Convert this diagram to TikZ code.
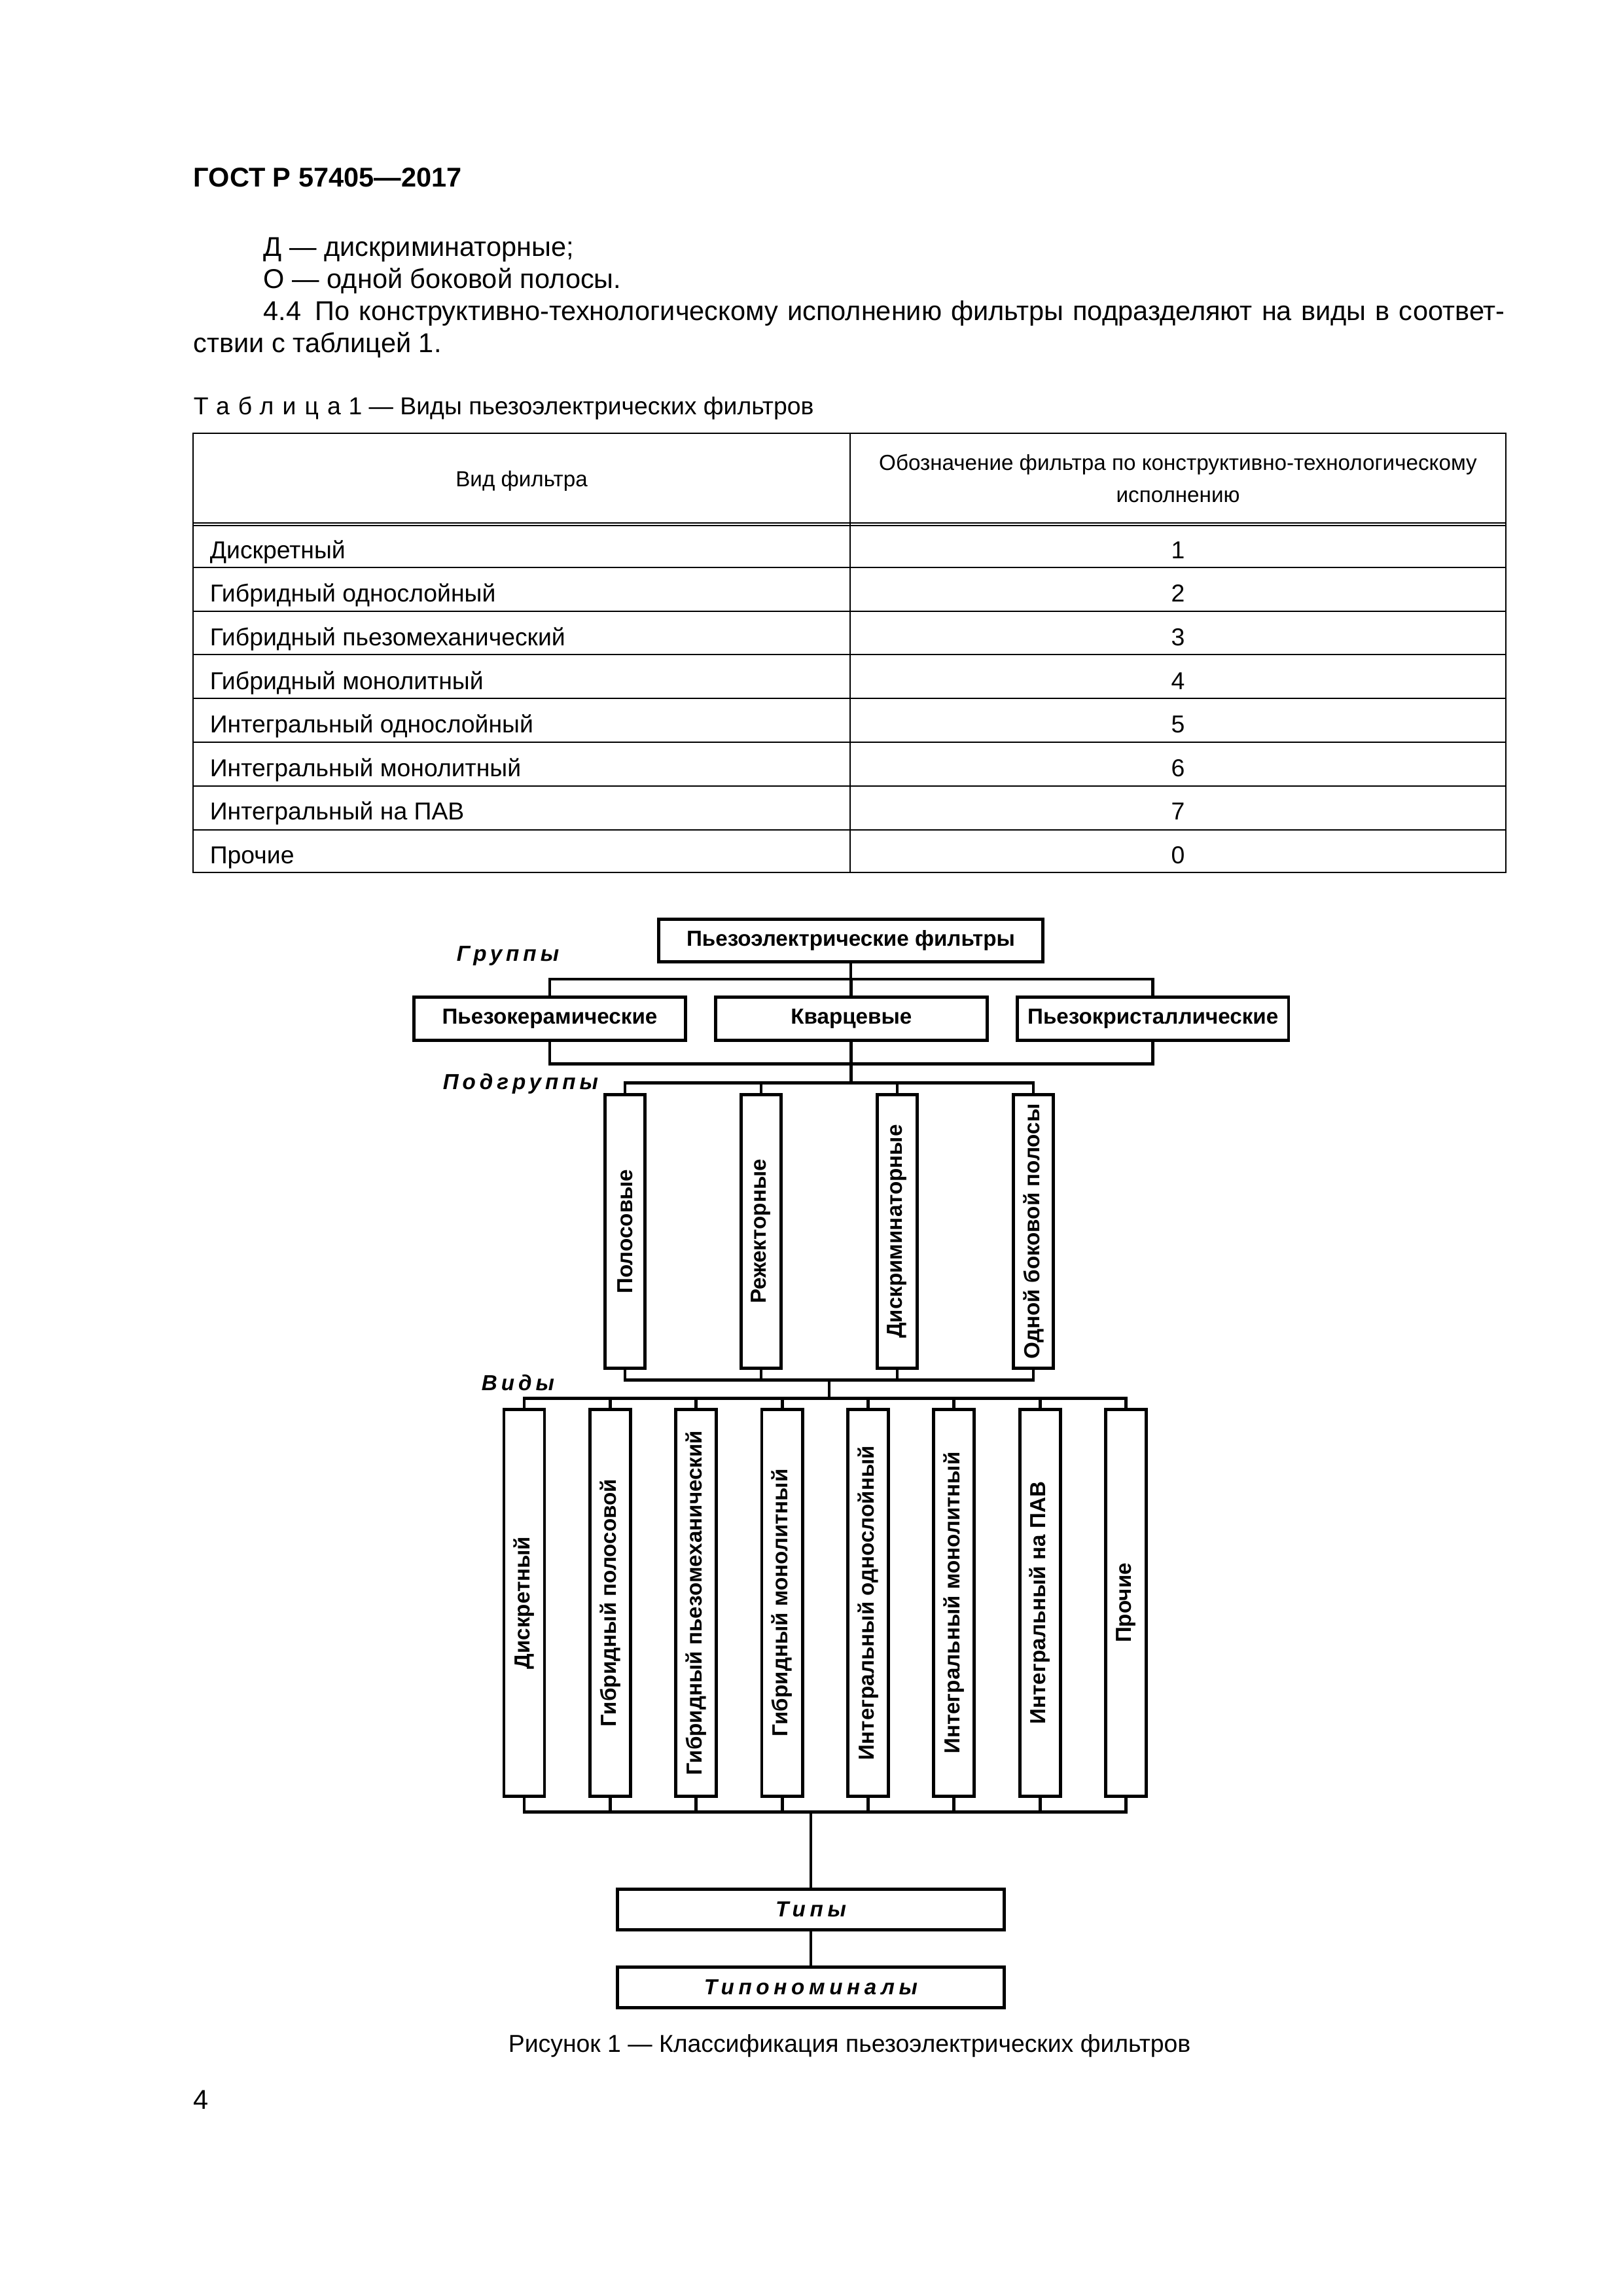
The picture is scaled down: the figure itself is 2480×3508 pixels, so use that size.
\documentclass[tikz,border=0pt]{standalone}
\usepackage{fontspec}
\setmainfont{Liberation Sans}
\usepackage{graphicx}
\usetikzlibrary{positioning, calc}
\tikzset{
    fbox/.style={rectangle, draw, line width=0.42mm, inner sep=0pt, align=center, font=\fontsize{8}{9.6}\selectfont\bfseries},
    topbox/.style={fbox, minimum width=49.7mm, minimum height=5.5mm},
    grpbox/.style={fbox, minimum width=35.1mm, minimum height=5.6mm},
    subbox/.style={fbox, minimum width=5.17mm, minimum height=35.4mm},
    kindbox/.style={fbox, minimum width=5.25mm, minimum height=50mm},
    endbox/.style={fbox, minimum width=50mm, minimum height=5.25mm, font=\fontsize{8}{9.6}\selectfont\bfseries\itshape\addfontfeature{LetterSpace=20}},
    link/.style={line width=0.42mm}
}

\begin{document}
\begin{tikzpicture}[x=0.0846774mm, y=-0.0846774mm,
    textline/.style={anchor=base west, inner sep=0pt, font=\fontsize{10}{12}\selectfont},
    cell/.style={inner sep=0pt, text height=6.5pt, text depth=1.5pt, font=\fontsize{9}{11}\selectfont},
    level/.style={anchor=west, inner sep=0pt, font=\fontsize{8}{9.6}\selectfont\bfseries\itshape\addfontfeature{LetterSpace=18}},
    rule/.style={line width=0.3pt}]

    \fill[white] (0,0) rectangle (2480,3508);
    \useasboundingbox (0,0) rectangle (2480,3508);

    % page text
    \node (gost) [textline, font=\fontsize{10}{12}\selectfont\bfseries] at (295,285) {ГОСТ Р 57405—2017};
    \node (defd) [textline] at (402,391) {Д — дискриминаторные;};
    \node (defo) [textline] at (402,440) {О — одной боковой полосы.};
    \node (par1) [textline] at (402,489) {\makebox[160.6mm][s]{4.4\hspace{1.8mm}По конструктивно-технологическому исполнению фильтры подразделяют на виды в соответ-}};
    \node (par2) [textline] at (295,538) {ствии с таблицей 1.};
    \node (tabcap) [textline, font=\fontsize{9}{11}\selectfont] at (295,633) {{\addfontfeature{LetterSpace=35}Таблица}\hspace{1mm}1 — Виды пьезоэлектрических фильтров};

    % table
    \draw[rule] (295,662) rectangle (2301,1333);
    \draw[rule] (295,799) -- (2301,799) (295,803) -- (2301,803);
    \draw[rule] (1299,662) -- (1299,1333);
    \foreach \y in {867,934,1000,1067,1134,1201,1268}
        \draw[rule] (295,\y) -- (2301,\y);
    \node (head1) [cell, font=\fontsize{8}{11.8}\selectfont] at (797,733) {Вид фильтра};
    \node (head2) [inner sep=0pt, align=center, font=\fontsize{8}{11.8}\selectfont] at (1800,731) {Обозначение фильтра по конструктивно-технологическому\\исполнению};
    \foreach \name/\code [count=\i] in {Дискретный/1, Гибридный однослойный/2, Гибридный пьезомеханический/3, Гибридный монолитный/4, Интегральный однослойный/5, Интегральный монолитный/6, Интегральный на ПАВ/7, Прочие/0} {
        \node (row\i) [cell, anchor=west] at (320,{843+66.6*(\i-1)}) {\name};
        \node (code\i) [cell] at (1800,{843+66.6*(\i-1)}) {\code};
    }

    % classification chart
    \node (root) [topbox] at (1300,1437) {Пьезоэлектрические фильтры};
    \node (g1) [grpbox] at (840,1556.5) {Пьезокерамические};
    \node (g2) [grpbox, right=3.5mm of g1] {Кварцевые};
    \node (g3) [grpbox, right=3.5mm of g2] {Пьезокристаллические};

    \node (sub1) [subbox] at (955,1881.5) {\rotatebox{90}{Полосовые}};
    \node (sub2) [subbox, right=12.02mm of sub1] {\rotatebox{90}{Режекторные}};
    \node (sub3) [subbox, right=12.02mm of sub2] {\rotatebox{90}{Дискриминаторные}};
    \node (sub4) [subbox, right=12.02mm of sub3] {\rotatebox{90}{Одной боковой полосы}};

    \node (v1) [kindbox] at (801,2449) {\rotatebox{90}{Дискретный}};
    \node (v2) [kindbox, right=5.45mm of v1] {\rotatebox{90}{Гибридный полосовой}};
    \node (v3) [kindbox, right=5.45mm of v2] {\rotatebox{90}{Гибридный пьезомеханический}};
    \node (v4) [kindbox, right=5.45mm of v3] {\rotatebox{90}{Гибридный монолитный}};
    \node (v5) [kindbox, right=5.45mm of v4] {\rotatebox{90}{Интегральный однослойный}};
    \node (v6) [kindbox, right=5.45mm of v5] {\rotatebox{90}{Интегральный монолитный}};
    \node (v7) [kindbox, right=5.45mm of v6] {\rotatebox{90}{Интегральный на ПАВ}};
    \node (v8) [kindbox, right=5.45mm of v7] {\rotatebox{90}{Прочие}};

    \node (types) [endbox] at (1239,2917.5) {Типы};
    \node (ratings) [endbox, below=4.4mm of types] {Типономиналы};

    \node (lgroups) [level] at (697,1461) {Группы};
    \node (lsubs) [level] at (676,1656) {Подгруппы};
    \node (lkinds) [level] at (735,2113) {Виды};

    % buses
    \coordinate (gtop) at (0,1496);
    \coordinate (gbot) at (0,1625);
    \coordinate (stop) at (0,1654);
    \coordinate (sbot) at (0,2108);
    \coordinate (vtop) at (0,2136);
    \coordinate (vbot) at (0,2768);
    \coordinate (sjoin) at ($(sub1.south |- sbot)!0.5!(sub4.south |- sbot)$);

    \draw[link] (root) -- (root |- gtop);
    \draw[link] (g1.north) -- (g1.north |- gtop) -- (g3.north |- gtop) -- (g3.north);
    \draw[link] (g2) -- (g2 |- gtop);
    \draw[link] (g1.south) -- (g1.south |- gbot) -- (g3.south |- gbot) -- (g3.south);
    \draw[link] (g2) -- (g2 |- stop);
    \draw[link] (sub1.north) -- (sub1.north |- stop) -- (sub4.north |- stop) -- (sub4.north);
    \draw[link] (sub1.south) -- (sub1.south |- sbot) -- (sub4.south |- sbot) -- (sub4.south);
    \foreach \i in {2,3} {
        \draw[link] (sub\i) -- (sub\i |- stop);
        \draw[link] (sub\i) -- (sub\i |- sbot);
    }
    \draw[link] (sjoin) -- (sjoin |- vtop);
    \draw[link] (v1.north) -- (v1.north |- vtop) -- (v8.north |- vtop) -- (v8.north);
    \draw[link] (v1.south) -- (v1.south |- vbot) -- (v8.south |- vbot) -- (v8.south);
    \foreach \i in {2,...,7} {
        \draw[link] (v\i) -- (v\i |- vtop);
        \draw[link] (v\i) -- (v\i |- vbot);
    }
    \draw[link] (types) -- (types |- vbot);
    \draw[link] (types) -- (ratings);

    \node (figcap) [font=\fontsize{9}{11}\selectfont, inner sep=0pt] at (1298,3126) {Рисунок 1 — Классификация пьезоэлектрических фильтров};
    \node (pagenum) [textline] at (295,3222) {4};
\end{tikzpicture}
\end{document}
